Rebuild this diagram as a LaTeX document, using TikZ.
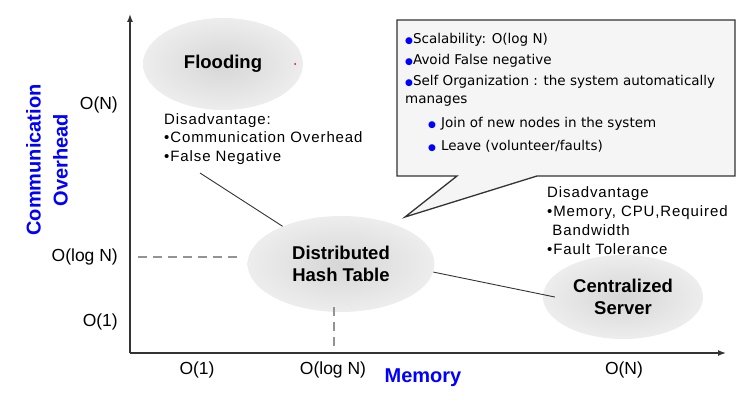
\documentclass[tikz,border=0pt]{standalone}
\usepackage{fontspec}
\setmainfont{Liberation Sans}
\newfontfamily\notefont[LetterSpace=6]{Liberation Sans}
\newfontfamily\boxfont{DejaVu Sans}
\usetikzlibrary{arrows.meta,shapes.geometric,calc}

% small blue dot used in front of the items of the callout
\newcommand{\bluedot}{\textcolor{blue}{\boxfont\fontsize{9}{9}\selectfont ●}}

\begin{document}
\begin{tikzpicture}[x=1pt, y=-1pt,
    blob/.style={ellipse, shading=radial, inner color=gray!32, outer color=gray!14,
        inner sep=0pt, align=center, font=\bfseries\fontsize{18.5}{22}\selectfont},
    tick/.style={inner sep=0pt, font=\fontsize{17.5}{20}\selectfont},
    axistitle/.style={text=blue, inner sep=0pt, align=center,
        font=\bfseries\fontsize{20}{27}\selectfont},
    disad/.style={inner sep=0pt, align=left, anchor=north west,
        font=\notefont\fontsize{15}{18.5}\selectfont},
    boxtext/.style={inner sep=0pt, align=left, anchor=north west,
        font=\boxfont\fontsize{13.5}{18}\selectfont},
    guide/.style={gray!85, line width=2.5pt, dash pattern=on 9pt off 6pt},
    axis/.style={gray!40!black, line width=1.4pt, -{Latex[length=8pt,width=6pt]}},
    link/.style={black!80, line width=0.9pt}
]
    \useasboundingbox (0,0) rectangle (745,404);

    % The two axes, both starting at the origin
    \coordinate (origin) at (130,353);
    \coordinate (xend) at (726,353);
    \coordinate (yend) at (130,14);
    \draw[axis] (origin) -- (xend);
    \draw[axis] (origin) -- (yend);

    % Axis titles
    \node[axistitle, rotate=90] (ytitle) at (47,160) {Communication\\Overhead};
    \node[axistitle] (xtitle) at (423,378) {Memory};

    % Tick labels on both axes
    \node[tick, anchor=east] (yN) at (118,105) {O(N)};
    \node[tick, anchor=east] (ylog) at (118,257) {O(log N)};
    \node[tick, anchor=east] (yone) at (118,322) {O(1)};
    \node[tick] (xone) at (197,370) {O(1)};
    \node[tick] (xlog) at (333,370) {O(log N)};
    \node[tick] (xN) at (624,370) {O(N)};

    % The callout box with its pointer (drawn as one closed path)
    \coordinate (tip) at (405,217);
    \draw[fill=gray!8, draw=gray!40!black, line width=1.3pt, line join=miter]
        (397,20) -- (735,20) -- (735,176) -- (537,176) -- (tip)
        -- (457,176) -- (397,176) -- cycle;
    \node[boxtext] (merits) at (405,33) {%
        \bluedot Scalability: O(log N)\\[3pt]
        \bluedot Avoid False negative\\[3pt]
        \bluedot Self Organization : the system automatically\\
        manages\\[6pt]
        \hspace*{23pt}\bluedot\hspace{5pt}Join of new nodes in the system\\[5pt]
        \hspace*{23pt}\bluedot\hspace{5pt}Leave (volunteer/faults)};

    % The three approaches
    \node[blob, minimum width=160pt, minimum height=92pt] (flood) at (223,64) {Flooding};
    \fill[red] (295,64) circle (1pt);
    \node[blob, minimum width=187pt, minimum height=96pt] (dht) at (341,264) {Distributed\\Hash Table};
    \node[blob, minimum width=160pt, minimum height=84pt] (cs) at (623,297) {Centralized\\Server};

    % Dashed guides from the DHT to the axes
    \coordinate (hstart) at (138,257);
    \coordinate (hstop) at (242,257);
    \coordinate (vstart) at (334,307);
    \coordinate (vstop) at (334,352);
    \draw[guide] (hstart) -- (hstop);
    \draw[guide] (vstart) -- (vstop);

    % Disadvantages of flooding and of the central server
    \node[disad] (flooddis) at (164,113) {Disadvantage:\\•Communication Overhead\\•False Negative};
    \node[disad, font=\notefont\fontsize{15}{19}\selectfont] (csdis) at (547,186)
        {Disadvantage\\•Memory, CPU,Required\\\phantom{•}Bandwidth\\•Fault Tolerance};

    % Connecting lines
    \coordinate (ftail) at (200,173);
    \draw[link] (ftail) -- (dht);
    \draw[link] (dht.-5) -- ($(cs.west)+(12,0)$);
\end{tikzpicture}
\end{document}
